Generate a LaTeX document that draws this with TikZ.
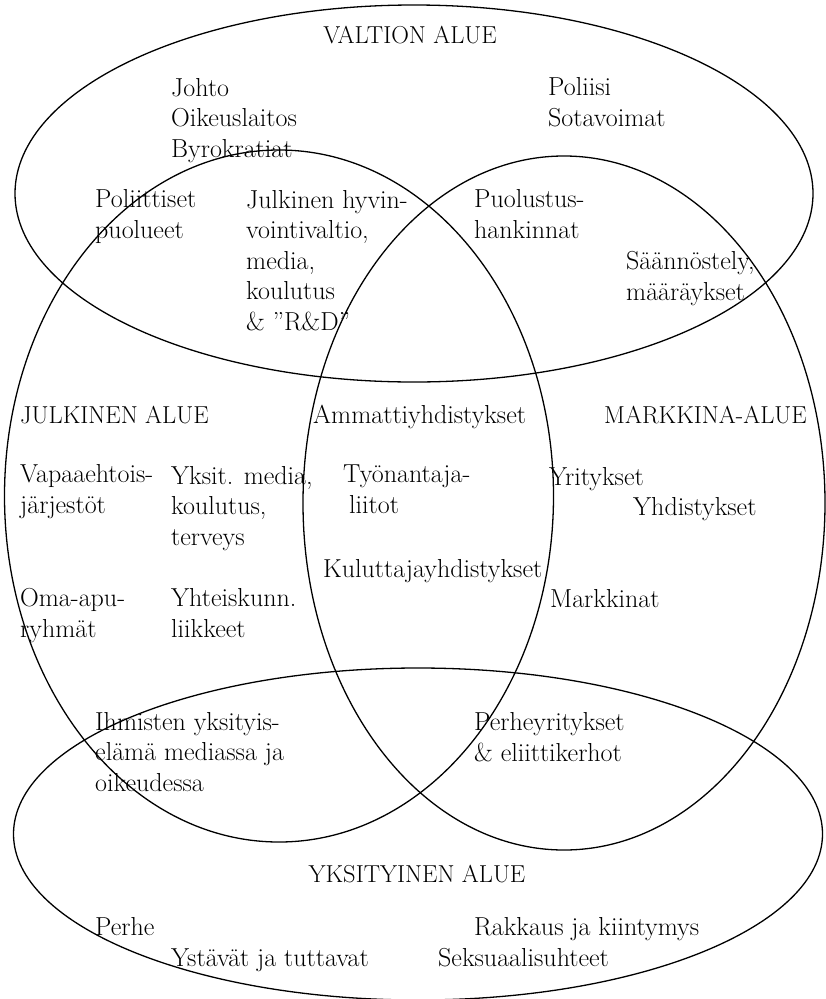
\documentclass[tikz,border=0pt]{standalone}
\usepackage{fontspec}
\usepackage{tikz}
\usetikzlibrary{shapes.geometric}

\begin{document}
\begin{tikzpicture}[x=1pt, y=-1pt]
    \tikzset{area/.style={
      ellipse,
      draw,
      line width=1.3pt,
      inner sep=0pt,
      outer sep=0pt},
      lbl/.style={
      anchor=base west,
      inner sep=0pt,
      align=left,
      font=\fontsize{26}{30.5}\selectfont},
      ttl/.style={
      lbl,
      font=\fontsize{24.5}{30.5}\selectfont}}
    \useasboundingbox (0, 0) rectangle (825, 999);
    % the four areas
    \node[area, minimum width=798pt, minimum height=377pt] at (414, 193.5) (valtio) {};
    \node[area, minimum width=549pt, minimum height=692pt] at (279, 496) (julkinen) {};
    \node[area, minimum width=522pt, minimum height=694pt] at (564, 503) (markkina) {};
    \node[area, minimum width=809pt, minimum height=332pt] at (418, 834) (yksityinen) {};
    % valtion alue (base = last line)
    \node[ttl, anchor=base] at (410, 43) (valtiot) {VALTION ALUE};
    \node[lbl] at (171, 157) (johto) {Johto\\Oikeuslaitos\\Byrokratiat};
    \node[lbl] at (548, 126) (poliisi) {Poliisi\\Sotavoimat};
    \node[lbl] at (95, 238) (puolueet) {Poliittiset\\puolueet};
    \node[lbl] at (246, 330) (hyvinvointi) {Julkinen hyvin-\\vointivaltio,\\media,\\koulutus\\\& ”R\&D”};
    \node[lbl] at (474, 238) (puolustus) {Puolustus-\\hankinnat};
    \node[lbl] at (626, 300) (saannostely) {Säännöstely,\\määräykset};
    % julkinen ja markkina-alue
    \node[ttl] at (20, 423) (julkinent) {JULKINEN ALUE};
    \node[lbl] at (313, 423) (ammatti) {Ammattiyhdistykset};
    \node[ttl] at (604, 423) (markkinat) {MARKKINA-ALUE};
    \node[lbl] at (20, 513) (vapaa) {Vapaaehtois-\\järjestöt};
    \node[lbl] at (171, 545) (yksit) {Yksit. media,\\koulutus,\\terveys};
    \node[lbl] at (343, 513) (tyonantaja) {Työnantaja-\\\hspace{6pt}liitot};
    \node[lbl] at (549, 485) (yritykset) {Yritykset};
    \node[lbl] at (633, 515) (yhdistykset) {Yhdistykset};
    \node[lbl] at (323, 577) (kuluttaja) {Kuluttajayhdistykset};
    \node[lbl] at (20, 637) (omaapu) {Oma-apu-\\ryhmät};
    \node[lbl] at (171, 637) (liikkeet) {Yhteiskunn.\\liikkeet};
    \node[lbl] at (550, 607) (markkina2) {Markkinat};
    % yksityinen alue
    \node[lbl] at (95, 791) (ihmisten) {Ihmisten yksityis-\\elämä mediassa ja\\oikeudessa};
    \node[lbl] at (474, 761) (perheyr) {Perheyritykset\\\& eliittikerhot};
    \node[ttl, anchor=base] at (417, 882) (yksityinent) {YKSITYINEN ALUE};
    \node[lbl] at (95, 935) (perhe) {Perhe};
    \node[lbl] at (171, 966) (ystavat) {Ystävät ja tuttavat};
    \node[lbl] at (474, 935) (rakkaus) {Rakkaus ja kiintymys};
    \node[lbl] at (438, 966) (seksuaali) {Seksuaalisuhteet};
\end{tikzpicture}
\end{document}
